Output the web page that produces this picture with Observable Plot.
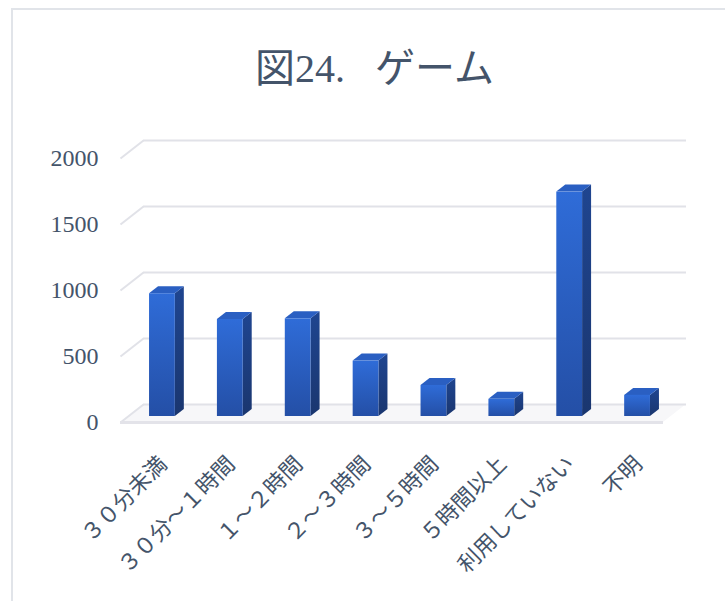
<!DOCTYPE html>
<html>
<head>
<meta charset="utf-8">
<script src="https://cdn.jsdelivr.net/npm/d3@7"></script>
<script src="https://cdn.jsdelivr.net/npm/@observablehq/plot@0.6"></script>
<style>
  html, body { margin: 0; padding: 0; background: #fff; }
  #wrap { position: relative; width: 725px; height: 601px; overflow: hidden; background: #fff; }
  #frame { position: absolute; left: 11px; top: 8px; right: -4px; bottom: -4px;
           border-left: 2px solid #e1e4e9; border-top: 2px solid #e1e4e9; }
  #title { position: absolute; left: 22px; top: 44px; width: 705px; height: 42px; line-height: 42px;
           text-align: center; font-size: 40px; color: #44546A;
           font-family: "Noto Sans CJK JP", sans-serif; white-space: nowrap; }
  #title .num { font-family: "Liberation Serif", "DejaVu Serif", serif; margin-right: 30px; }
  #chart { position: absolute; left: 0; top: 100px; }
</style>
</head>
<body>
<div id="wrap">
  <div id="frame"></div>
  <div id="title">図<span class="num">24.</span>ゲーム</div>
  <div id="chart"></div>
</div>
<script>
// ---- data ----
const categories = ["３０分未満", "３０分～１時間", "１～２時間", "２～３時間", "３～５時間", "５時間以上", "利用していない", "不明"];
const values = [930, 735, 740, 420, 235, 130, 1700, 160];
const yTicks = [0, 500, 1000, 1500, 2000];

// ---- geometry / style (3D look) ----
const W = 725, H = 501;
const mL = 120, mR = 62, mT = 58, mB = 179;
const kx = (W - mL - mR) / 8;            // px per category unit
const ky = (H - mT - mB) / 2000;         // px per value unit
const wallDX = 23 / kx, wallDY = 18 / ky; // depth of the back wall in data units
const barDX = 9 / kx, barDY = 7 / ky;     // depth of each bar
const half = 0.19;                        // half bar width in category units
const barOffX = 8, barOffY = -6;          // bar plane offset from the front plane (px)

const bars = values.map((v, i) => ({i, v, cat: categories[i]}));
const sidePts = bars.flatMap(b => [
  {bar: b.i, x: b.i + half, y1: 0, y2: b.v},
  {bar: b.i, x: b.i + half + barDX, y1: barDY, y2: b.v + barDY}
]);
const topPts = bars.flatMap(b => [
  {bar: b.i, x: b.i - half, y1: b.v, y2: b.v},
  {bar: b.i, x: b.i - half + barDX, y1: b.v, y2: b.v + barDY},
  {bar: b.i, x: b.i + half, y1: b.v, y2: b.v + barDY},
  {bar: b.i, x: b.i + half + barDX, y1: b.v + barDY, y2: b.v + barDY}
]);
const shadowPts = bars.flatMap(b => [
  {bar: b.i, x: b.i - half - 0.22, y1: 10, y2: 40},
  {bar: b.i, x: b.i + half + 0.2, y1: 10, y2: 40 + barDY}
]);
const floorPts = [
  {x: -0.5, y1: 0, y2: 0},
  {x: -0.5 + wallDX, y1: 0, y2: wallDY},
  {x: 7.5, y1: 0, y2: wallDY},
  {x: 7.5 + wallDX, y1: wallDY, y2: wallDY}
];

const textColor = "#44546A";
const gridColor = "#e1e2e8";

const plot = Plot.plot({
  width: W, height: H,
  marginLeft: mL, marginRight: mR, marginTop: mT, marginBottom: mB,
  style: {fontSize: "24px", fontFamily: "'Liberation Serif', 'DejaVu Serif', 'Noto Sans CJK JP', serif", color: textColor, background: "transparent"},
  x: {domain: [-0.5, 7.5], axis: null},
  y: {domain: [0, 2000], ticks: yTicks, tickFormat: d => String(d), tickSize: 0, tickPadding: 22, label: null},
  marks: [
    // floor
    Plot.areaY(floorPts, {x: "x", y1: "y1", y2: "y2", fill: "#f7f7f9"}),
    // back wall gridlines
    Plot.ruleY(yTicks, {x1: -0.5 + wallDX, x2: 7.5 + wallDX, y: d => d + wallDY, stroke: gridColor, strokeWidth: 2}),
    // side wall diagonals
    Plot.link(yTicks, {x1: -0.5, y1: d => d, x2: -0.5 + wallDX, y2: d => d + wallDY, stroke: gridColor, strokeWidth: 2}),
    // floor front edge
    Plot.ruleY([0], {x1: -0.5, x2: 7.5, stroke: "#e3e3e9", strokeWidth: 3}),
    // shadows
    Plot.areaY(shadowPts, {x: "x", y1: "y1", y2: "y2", z: "bar", fill: "#5a5a5a", fillOpacity: 0.45, dx: barOffX - 4, dy: barOffY + 2, ariaLabel: "shadow"}),
    // bar side faces
    Plot.areaY(sidePts, {x: "x", y1: "y1", y2: "y2", z: "bar", fill: "url(#gSide)", dx: barOffX, dy: barOffY}),
    // bar top faces
    Plot.areaY(topPts, {x: "x", y1: "y1", y2: "y2", z: "bar", fill: "#2a5fc2", dx: barOffX, dy: barOffY}),
    // bar front faces
    Plot.rect(bars, {x1: d => d.i - half, x2: d => d.i + half, y1: () => 0, y2: "v", fill: "url(#gFront)", dx: barOffX, dy: barOffY}),
    // category labels
    Plot.text(bars, {x: "i", y: () => 0, text: "cat", rotate: -45, textAnchor: "end", dx: 9, dy: 38,
      fontSize: 22, fill: textColor, fontFamily: "'Liberation Serif', 'Noto Sans CJK JP', serif"})
  ]
});

// gradients and blur
const svg = d3.select(plot);
const defs = svg.insert("defs", ":first-child");
const gf = defs.append("linearGradient").attr("id", "gFront").attr("x1", 0).attr("y1", 0).attr("x2", 0).attr("y2", 1);
gf.append("stop").attr("offset", "0%").attr("stop-color", "#2f6cd8");
gf.append("stop").attr("offset", "100%").attr("stop-color", "#244fa6");
const gs = defs.append("linearGradient").attr("id", "gSide").attr("x1", 0).attr("y1", 0).attr("x2", 0).attr("y2", 1);
gs.append("stop").attr("offset", "0%").attr("stop-color", "#1f4590");
gs.append("stop").attr("offset", "100%").attr("stop-color", "#1a366f");
const fb = defs.append("filter").attr("id", "blur").attr("x", "-50%").attr("y", "-50%").attr("width", "200%").attr("height", "200%");
fb.append("feGaussianBlur").attr("stdDeviation", 3);
svg.selectAll("g[aria-label=shadow]").attr("filter", "url(#blur)");

document.getElementById("chart").appendChild(plot);
</script>
</body>
</html>
